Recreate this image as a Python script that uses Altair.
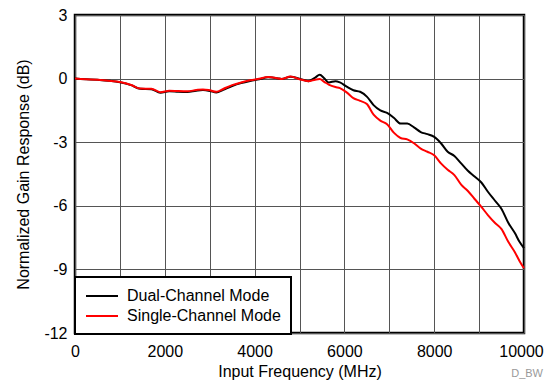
import altair as alt
import pandas as pd

freq_common = [0, 250, 500, 750, 1000, 1250, 1450, 1700, 1900, 2100, 2300, 2500, 2700, 2850,
               3000, 3150, 3300, 3500, 3700, 3900, 4100, 4300, 4500, 4600, 4800]
dual_common = [0.0, -0.03, -0.06, -0.1, -0.17, -0.31, -0.48, -0.5, -0.67, -0.6, -0.62, -0.63,
               -0.57, -0.54, -0.58, -0.66, -0.53, -0.35, -0.21, -0.11, -0.03, 0.06, 0.02, -0.02, 0.09]
single_common = [0.0, -0.03, -0.06, -0.1, -0.16, -0.3, -0.47, -0.48, -0.64, -0.57, -0.59, -0.6,
                 -0.54, -0.51, -0.55, -0.62, -0.49, -0.31, -0.18, -0.08, -0.01, 0.07, 0.02, -0.02, 0.1]

freq_tail = [5000, 5200, 5350, 5450, 5550, 5650, 5800, 5900, 6050, 6200, 6350, 6500, 6650,
             6800, 6950, 7100, 7250, 7400, 7550, 7700, 7850, 8000, 8150, 8300, 8450, 8600,
             8750, 8900, 9050, 9200, 9350, 9500, 9650, 9800, 9900, 10000]
dual_tail = [0.0, -0.12, 0.05, 0.18, 0.02, -0.18, -0.12, -0.18, -0.38, -0.55, -0.62, -0.85,
             -1.25, -1.5, -1.62, -1.85, -2.12, -2.12, -2.3, -2.52, -2.62, -2.75, -3.05, -3.45,
             -3.65, -4.0, -4.35, -4.62, -4.9, -5.35, -5.75, -6.15, -6.8, -7.3, -7.7, -8.0]
single_tail = [-0.03, -0.12, -0.05, -0.02, -0.15, -0.28, -0.4, -0.45, -0.65, -0.92, -1.05, -1.2,
               -1.7, -1.98, -2.15, -2.55, -2.8, -2.87, -3.05, -3.3, -3.45, -3.62, -4.0, -4.3,
               -4.55, -5.0, -5.3, -5.68, -6.05, -6.45, -6.8, -7.1, -7.7, -8.2, -8.6, -8.95]

series_names = ["Dual-Channel Mode", "Single-Channel Mode"]
series_colors = ["#000000", "#ff0000"]
x_ticks = list(range(0, 10001, 1000))
y_ticks = [-12, -9, -6, -3, 0, 3]

freqs = freq_common + freq_tail
rows = []
for f, v in zip(freqs, dual_common + dual_tail):
    rows.append({"f": f, "g": v, "mode": series_names[0]})
for f, v in zip(freqs, single_common + single_tail):
    rows.append({"f": f, "g": v, "mode": series_names[1]})
df = pd.DataFrame(rows)

FONT = "Liberation Sans"

x_enc = alt.X("f:Q", scale=alt.Scale(domain=[0, 10000], nice=False),
              axis=alt.Axis(values=x_ticks, title="Input Frequency (MHz)",
                            labelExpr="datum.value % 2000 == 0 ? datum.value + '' : ''",
                            labelOffset={"condition": {"test": "datum.value == 10000", "value": -3},
                                         "value": 0},
                            labelFlush=False, labelPadding=10, titlePadding=4))
y_enc = alt.Y("g:Q", scale=alt.Scale(domain=[-12, 3], nice=False),
              axis=alt.Axis(values=y_ticks, title="Normalized Gain Response (dB)",
                            labelExpr="datum.value + ''", labelFlush=False,
                            labelPadding=8, titlePadding=12))
color_enc = alt.Color("mode:N", scale=alt.Scale(domain=series_names, range=series_colors),
                      legend=alt.Legend(title=None, orient="none", legendX=0, legendY=262,
                                        symbolType="M-1,0H3", symbolSize=256, symbolStrokeWidth=2,
                                        symbolFillColor="transparent",
                                        labelFontSize=16, labelFont=FONT, labelOffset=24,
                                        padding=10, rowPadding=3, fillColor="white",
                                        strokeColor="black", labelColor="black"))

base = alt.Chart(df).mark_line(strokeWidth=2, interpolate="monotone").encode(
    x=x_enc, y=y_enc, color=color_enc)

dual = base.transform_filter(alt.datum.mode == series_names[0])
single = base.transform_filter(alt.datum.mode == series_names[1])

note = alt.Chart(pd.DataFrame({"t": ["D_BW"]})).mark_text(
    font=FONT, fontSize=11, color="#999999", align="right", baseline="middle"
).encode(x=alt.value(468), y=alt.value(359), text="t:N")

chart = alt.layer(dual, single, note).properties(
    width=449, height=318,
    autosize=alt.AutoSizeParams(type="none"),
    padding={"left": 67, "top": 7, "right": 20, "bottom": 47},
).configure_view(stroke="black", strokeWidth=2.5).configure_axis(
    grid=True, gridColor="#555555", gridWidth=1, gridOpacity=1, ticks=False, domain=False,
    labelFont=FONT, labelFontSize=16, labelColor="black",
    titleFont=FONT, titleFontSize=16, titleFontWeight="normal", titleColor="black"
).configure_legend(strokeWidth=2)

chart.save("out.html", embed_options={"renderer": "svg", "actions": False})
